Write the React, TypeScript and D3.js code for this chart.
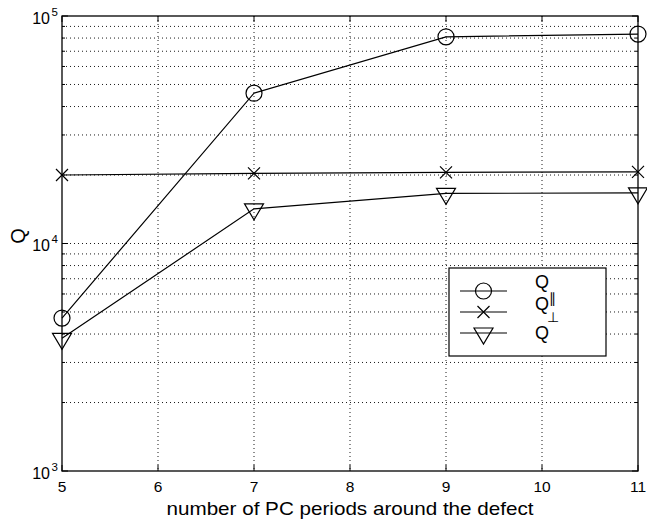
import React from "react";
import * as d3 from "d3";

// Number of photonic-crystal periods around the defect
const periods = [5, 7, 9, 11];
// Quality factors for each polarisation and the total
const qParallel = [4700, 45800, 81000, 83300];
const qPerp = [20000, 20350, 20550, 20650];
const qTotal = [3830, 14200, 16600, 16700];

const xTicks = [5, 6, 7, 8, 9, 10, 11];
const yDecades = [3, 4, 5];

const W = 647;
const H = 525;
const plot = { left: 62, right: 638, top: 16, bottom: 471 };
const FONT = "'Liberation Sans', Arial, Helvetica, sans-serif";

const x = d3.scaleLinear().domain([5, 11]).range([plot.left, plot.right]);
const y = d3.scaleLog().domain([1e3, 1e5]).range([plot.bottom, plot.top]);

const minorValues: number[] = [];
for (const d of [1e3, 1e4]) for (let k = 2; k <= 9; k++) minorValues.push(k * d);

const line = d3
  .line<[number, number]>()
  .x((d) => x(d[0]))
  .y((d) => y(d[1]));

type Marker = "circle" | "cross" | "tri";

function MarkerShape({ kind, cx, cy }: { kind: Marker; cx: number; cy: number }) {
  const common = { fill: "none", stroke: "#000", strokeWidth: 1.2 };
  if (kind === "circle") return <circle cx={cx} cy={cy} r={8} {...common} />;
  if (kind === "cross")
    return (
      <path
        d={`M${cx - 6},${cy - 6}L${cx + 6},${cy + 6}M${cx - 6},${cy + 6}L${cx + 6},${cy - 6}`}
        {...common}
      />
    );
  return (
    <path
      d={`M${cx - 9.5},${cy - 5}L${cx + 9.5},${cy - 5}L${cx},${cy + 11}Z`}
      {...common}
    />
  );
}

const series: { values: number[]; marker: Marker }[] = [
  { values: qParallel, marker: "circle" },
  { values: qPerp, marker: "cross" },
  { values: qTotal, marker: "tri" },
];

export default function App() {
  const gridStyle = { stroke: "#000", strokeWidth: 0.9, strokeDasharray: "1 3" };
  return (
    <svg
      width={W}
      height={H}
      style={{ position: "absolute", left: 0, top: 0, background: "#fff" }}
      fontFamily={FONT}
    >
      <rect x={0} y={0} width={W} height={H} fill="#fff" />

      {/* grid */}
      {xTicks.slice(1, -1).map((t) => (
        <line key={"gx" + t} x1={x(t)} x2={x(t)} y1={plot.top} y2={plot.bottom} {...gridStyle} />
      ))}
      {minorValues.concat([1e4]).map((v) => (
        <line key={"gy" + v} x1={plot.left} x2={plot.right} y1={y(v)} y2={y(v)} {...gridStyle} />
      ))}

      {/* ticks */}
      {xTicks.map((t) => (
        <g key={"tx" + t} stroke="#000" strokeWidth={1}>
          <line x1={x(t)} x2={x(t)} y1={plot.bottom} y2={plot.bottom - 6} />
          <line x1={x(t)} x2={x(t)} y1={plot.top} y2={plot.top + 6} />
        </g>
      ))}
      {minorValues.map((v) => (
        <g key={"ty" + v} stroke="#000" strokeWidth={1}>
          <line x1={plot.left} x2={plot.left + 3} y1={y(v)} y2={y(v)} />
          <line x1={plot.right} x2={plot.right - 3} y1={y(v)} y2={y(v)} />
        </g>
      ))}
      {yDecades.map((p) => (
        <g key={"tyM" + p} stroke="#000" strokeWidth={1}>
          <line x1={plot.left} x2={plot.left + 6} y1={y(10 ** p)} y2={y(10 ** p)} />
          <line x1={plot.right} x2={plot.right - 6} y1={y(10 ** p)} y2={y(10 ** p)} />
        </g>
      ))}

      {/* axes box */}
      <rect
        x={plot.left}
        y={plot.top}
        width={plot.right - plot.left}
        height={plot.bottom - plot.top}
        fill="none"
        stroke="#000"
        strokeWidth={1.3}
      />

      {/* tick labels */}
      {xTicks.map((t) => (
        <text key={"lx" + t} x={x(t)} y={492} fontSize={15.5} textAnchor="middle" fill="#000">
          {t}
        </text>
      ))}
      {yDecades.map((p) => (
        <g key={"ly" + p} fill="#000">
          <text x={50} y={y(10 ** p) + 7.5} fontSize={16} textAnchor="end">
            10
          </text>
          <text x={51.5} y={y(10 ** p) - 0.5} fontSize={11.5}>
            {p}
          </text>
        </g>
      ))}

      {/* axis labels */}
      <text x={(plot.left + plot.right) / 2} y={515} fontSize={19} textAnchor="middle" fill="#000"
        textLength={367} lengthAdjust="spacingAndGlyphs">
        number of PC periods around the defect
      </text>
      <text transform="translate(25,236) rotate(-90)" fontSize={20} textAnchor="middle" fill="#000">
        Q
      </text>

      {/* series */}
      {series.map((s, i) => {
        const pts = periods.map((p, j) => [p, s.values[j]] as [number, number]);
        return (
          <g key={"s" + i}>
            <path d={line(pts) ?? ""} fill="none" stroke="#000" strokeWidth={1.2} />
            {pts.map((d, j) => (
              <MarkerShape key={j} kind={s.marker} cx={x(d[0])} cy={y(d[1])} />
            ))}
          </g>
        );
      })}

      {/* legend */}
      <g>
        <rect x={449} y={268} width={157} height={88} fill="#fff" stroke="#000" strokeWidth={1.2} />
        {[
          { marker: "circle" as Marker, cy: 291 },
          { marker: "cross" as Marker, cy: 312 },
          { marker: "tri" as Marker, cy: 333 },
        ].map((r, i) => (
          <g key={"lg" + i}>
            <line x1={460} x2={507} y1={r.cy} y2={r.cy} stroke="#000" strokeWidth={1.2} />
            <MarkerShape kind={r.marker} cx={483.5} cy={r.cy} />
          </g>
        ))}
        <text x={535} y={288} fontSize={18} fill="#000">Q</text>
        <text x={549} y={303} fontSize={14} fill="#000" fontFamily="'DejaVu Sans', sans-serif">∥</text>
        <text x={535} y={310} fontSize={18} fill="#000">Q</text>
        <text x={547} y={322} fontSize={14} fill="#000" fontFamily="'DejaVu Sans', sans-serif">⊥</text>
        <text x={535} y={339} fontSize={18} fill="#000">Q</text>
      </g>
    </svg>
  );
}
